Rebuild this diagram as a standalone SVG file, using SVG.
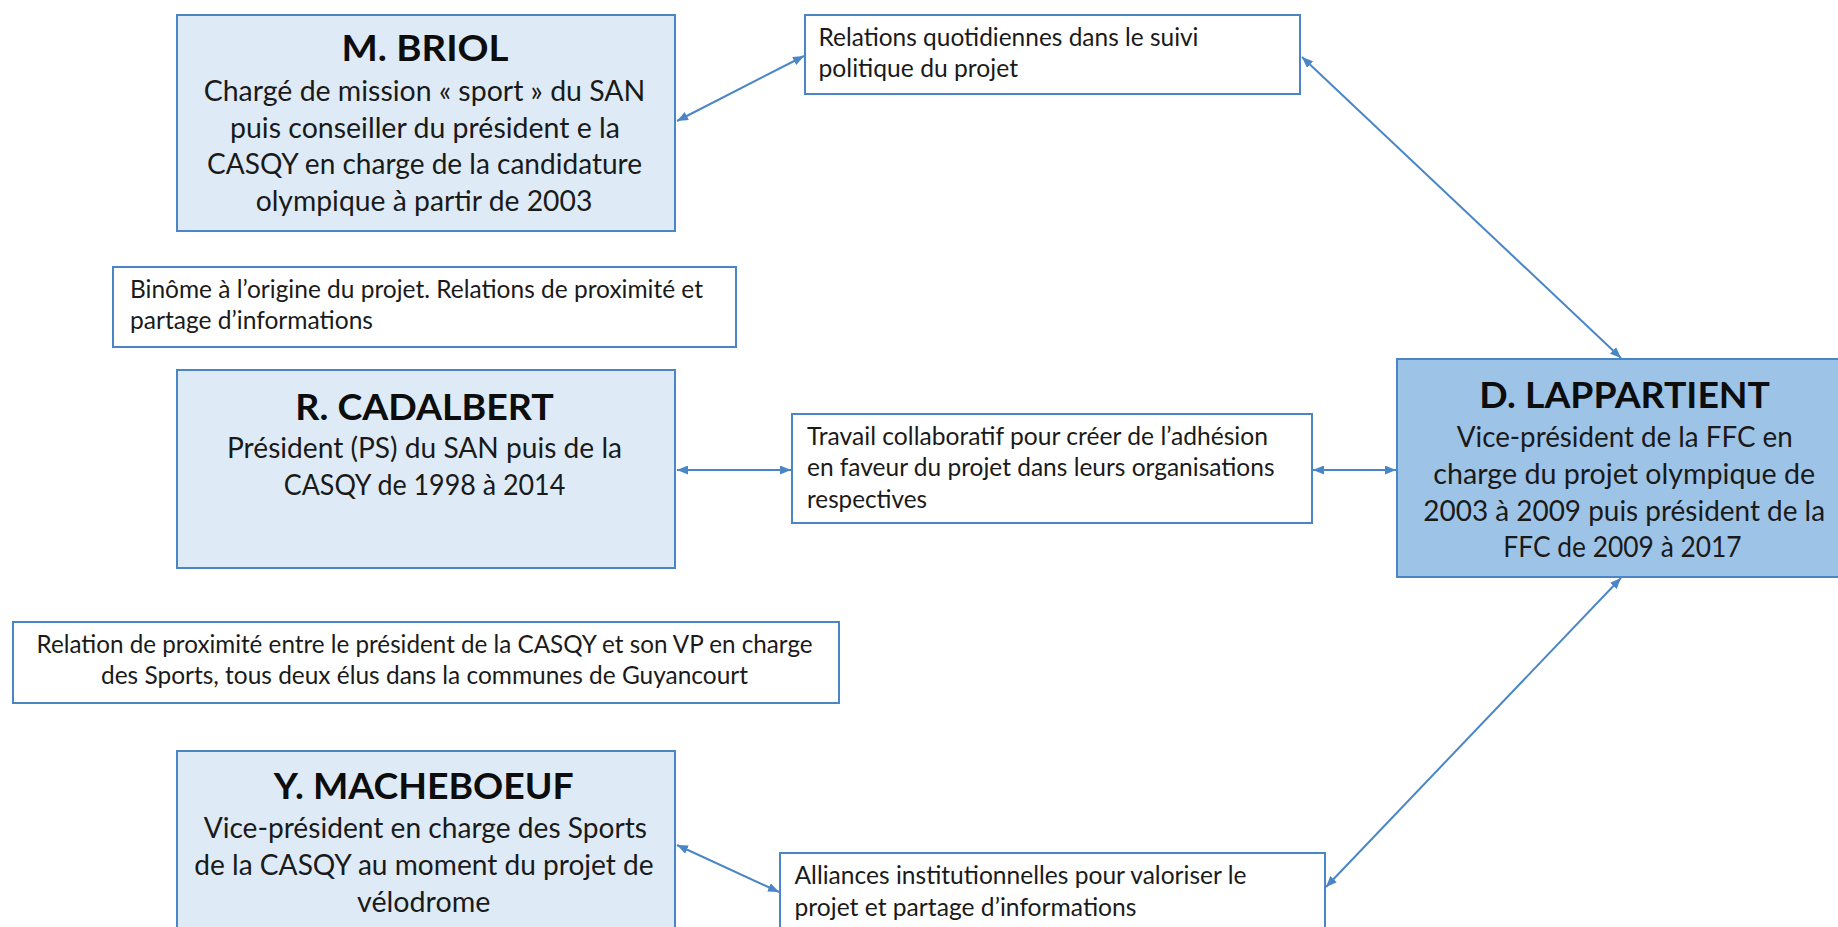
<svg xmlns="http://www.w3.org/2000/svg" width="1838" height="927" viewBox="0 0 1838 927">
<style>
.node rect{fill:#DEEBF7;stroke:#4A86C6;stroke-width:2}
#lappartient rect{fill:#9DC3E6}
.lab rect{fill:#FFFFFF;stroke:#4A86C6;stroke-width:2}
text{font-family:Lato,"Open Sans","Liberation Sans",sans-serif;fill:#1A1A1A}
.t{font-weight:700;font-size:36px;text-anchor:middle;fill:#0D0D0D}
.b{font-size:29px;text-anchor:middle}
.l{font-size:25px}
.lc{font-size:25px;text-anchor:middle}
.conn line{stroke:#4A86C6;stroke-width:2;marker-start:url(#ah);marker-end:url(#ah)}
</style>
<defs>
<marker id="ah" viewBox="0 0 11 9" markerWidth="11" markerHeight="9" refX="11" refY="4.5" orient="auto-start-reverse" markerUnits="userSpaceOnUse">
<path d="M0,0 L11,4.5 L0,9 z" fill="#4A86C6"/>
</marker>
</defs>
<rect width="1838" height="927" fill="#FFFFFF"/>

<g class="conn" id="connectors">
<line x1="677" y1="121" x2="804" y2="56"/>
<line x1="1302" y1="57" x2="1621" y2="358"/>
<line x1="677" y1="470" x2="791" y2="470"/>
<line x1="1313" y1="470" x2="1396" y2="470"/>
<line x1="1621" y1="578" x2="1326" y2="887"/>
<line x1="677" y1="845" x2="779" y2="892"/>
</g>

<g class="node" id="briol">
<rect x="177" y="15" width="498" height="216"/>
<text class="t" x="425" y="61" textLength="167" lengthAdjust="spacingAndGlyphs">M. BRIOL</text>
<text class="b" x="424.5" y="101" textLength="441.6" lengthAdjust="spacingAndGlyphs">Chargé de mission « sport » du SAN</text>
<text class="b" x="425" y="137.5" textLength="390" lengthAdjust="spacingAndGlyphs">puis conseiller du président e la</text>
<text class="b" x="424.5" y="174" textLength="435" lengthAdjust="spacingAndGlyphs">CASQY en charge de la candidature</text>
<text class="b" x="424" y="210.5" textLength="336.7" lengthAdjust="spacingAndGlyphs">olympique à partir de 2003</text>
</g>

<g class="lab" id="lbl-quotidiennes">
<rect x="805" y="15" width="495" height="79"/>
<text class="l" x="818.5" y="45.5" textLength="380" lengthAdjust="spacingAndGlyphs">Relations quotidiennes dans le suivi</text>
<text class="l" x="818.5" y="77" textLength="199.5" lengthAdjust="spacingAndGlyphs">politique du projet</text>
</g>

<g class="lab" id="lbl-binome">
<rect x="113" y="267" width="623" height="80"/>
<text class="l" x="130" y="297.5" textLength="573" lengthAdjust="spacingAndGlyphs">Binôme à l’origine du projet. Relations de proximité et</text>
<text class="l" x="130" y="329" textLength="243" lengthAdjust="spacingAndGlyphs">partage d’informations</text>
</g>

<g class="node" id="cadalbert">
<rect x="177" y="370" width="498" height="198"/>
<text class="t" x="424.5" y="419.5" textLength="258.4" lengthAdjust="spacingAndGlyphs">R. CADALBERT</text>
<text class="b" x="424.5" y="458" textLength="395" lengthAdjust="spacingAndGlyphs">Président (PS) du SAN puis de la</text>
<text class="b" x="424.5" y="494.5" textLength="281.6" lengthAdjust="spacingAndGlyphs">CASQY de 1998 à 2014</text>
</g>

<g class="lab" id="lbl-travail">
<rect x="792" y="414" width="520" height="109"/>
<text class="l" x="807" y="444.5" textLength="461" lengthAdjust="spacingAndGlyphs">Travail collaboratif pour créer de l’adhésion</text>
<text class="l" x="807" y="476" textLength="467.5" lengthAdjust="spacingAndGlyphs">en faveur du projet dans leurs organisations</text>
<text class="l" x="807" y="507.5" textLength="120" lengthAdjust="spacingAndGlyphs">respectives</text>
</g>

<g class="node" id="lappartient">
<rect x="1397" y="359" width="454" height="218"/>
<text class="t" x="1624.7" y="408" textLength="290.7" lengthAdjust="spacingAndGlyphs">D. LAPPARTIENT</text>
<text class="b" x="1624.7" y="446.5" textLength="336" lengthAdjust="spacingAndGlyphs">Vice-président de la FFC en</text>
<text class="b" x="1624.2" y="483.5" textLength="381.7" lengthAdjust="spacingAndGlyphs">charge du projet olympique de</text>
<text class="b" x="1624.2" y="520.5" textLength="401.7" lengthAdjust="spacingAndGlyphs">2003 à 2009 puis président de la</text>
<text class="b" x="1622.5" y="557" textLength="238.3" lengthAdjust="spacingAndGlyphs">FFC de 2009 à 2017</text>
</g>

<g class="lab" id="lbl-proximite">
<rect x="13" y="622" width="826" height="81"/>
<text class="lc" x="424.6" y="652.5" textLength="776" lengthAdjust="spacingAndGlyphs">Relation de proximité entre le président de la CASQY et son VP en charge</text>
<text class="lc" x="424.5" y="684" textLength="647" lengthAdjust="spacingAndGlyphs">des Sports, tous deux élus dans la communes de Guyancourt</text>
</g>

<g class="node" id="macheboeuf">
<rect x="177" y="751" width="498" height="190"/>
<text class="t" x="423.7" y="798.5" textLength="300" lengthAdjust="spacingAndGlyphs">Y. MACHEBOEUF</text>
<text class="b" x="425.3" y="838.3" textLength="443.3" lengthAdjust="spacingAndGlyphs">Vice-président en charge des Sports</text>
<text class="b" x="424" y="875.4" textLength="459.4" lengthAdjust="spacingAndGlyphs">de la CASQY au moment du projet de</text>
<text class="b" x="423.7" y="912" textLength="133.3" lengthAdjust="spacingAndGlyphs">vélodrome</text>
</g>

<g class="lab" id="lbl-alliances">
<rect x="780" y="853" width="545" height="90"/>
<text class="l" x="794.5" y="884" textLength="452" lengthAdjust="spacingAndGlyphs">Alliances institutionnelles pour valoriser le</text>
<text class="l" x="794.5" y="915.5" textLength="342" lengthAdjust="spacingAndGlyphs">projet et partage d’informations</text>
</g>
</svg>
